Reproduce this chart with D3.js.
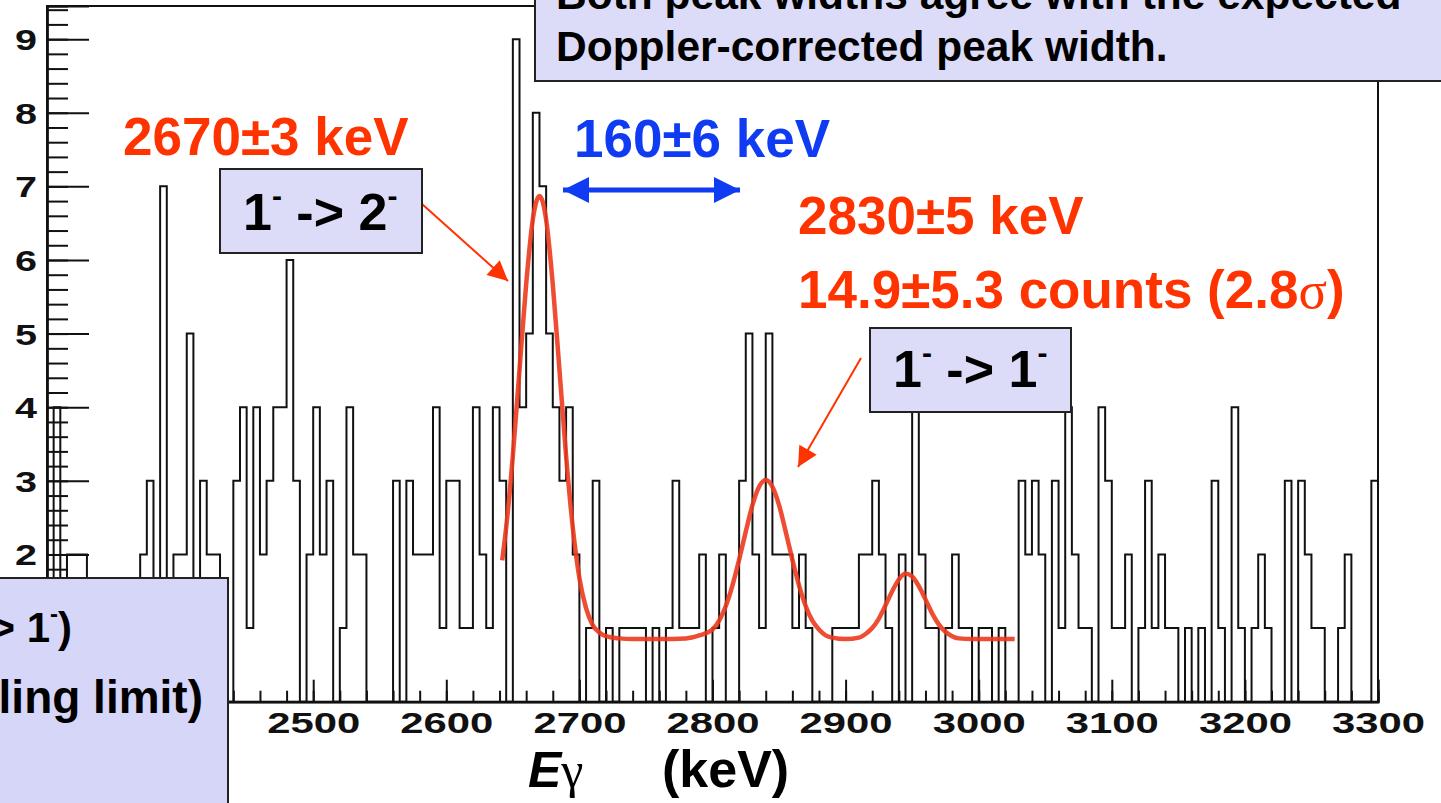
<!DOCTYPE html>
<html>
<head>
<meta charset="utf-8">
<script src="https://cdn.jsdelivr.net/npm/d3@7"></script>
<style>
body{margin:0;background:#fff;overflow:hidden}
svg text{font-family:"Liberation Sans",Arial,sans-serif;font-weight:bold}
</style>
</head>
<body>
<svg id="chart" width="1441" height="803"></svg>
<script>
// contenido de los bins, 5 keV cada uno, de 2300 a 3300 keV
var counts = [
 1,4,1,2,2,2,1,0,1,1, 0,1,0,1,2,3,1,7,1,2,
 2,5,1,3,2,2,1,0,3,4, 1,4,2,3,4,4,6,3,0,2,
 4,2,3,0,1,4,2,2,0,0, 0,0,3,0,3,2,2,2,4,1,
 3,3,1,1,4,2,1,4,3,0, 9,4,5,8,7,5,4,3,4,2,
 0,1,3,0,1,0,1,1,1,1, 0,1,0,1,3,1,1,1,2,0,
 1,2,0,0,3,5,2,1,5,2, 2,2,1,2,1,0,0,0,1,1,
 1,1,2,2,3,2,1,0,2,0, 4,2,1,1,0,1,2,1,1,0,
 1,1,0,1,0,0,3,2,3,2, 0,3,1,4,2,1,1,0,4,3,
 1,1,2,0,1,3,1,2,1,1, 0,1,0,1,0,3,1,0,4,1,
 0,1,2,1,0,0,3,0,3,2, 1,1,0,0,1,2,0,0,0,3
]
var binStart = 2300, binWidth = 5

// curva del ajuste
var fitEnergy = [2642,2645,2650,2655,2660,2665,2670,2675,2680,2685,2690,2695,2700,2705,2710,2715,2720,2730,2740,2760,
 2780,2790,2800,2805,2810,2815,2820,2825,2830,2835,2840,2845,2850,2855,2860,2865,2870,2875,2880,2885,2890,2900,
 2910,2915,2920,2925,2930,2935,2940,2945,2950,2955,2960,2965,2970,2975,2980,2985,2995,3027]
var fitCounts = [1.92,2.37,3.34,4.51,5.67,6.55,6.87,6.55,5.67,4.51,3.34,2.37,1.68,1.27,1.04,0.94,0.89,0.86,0.85,0.85,
 0.86,0.9,0.98,1.1,1.3,1.58,1.93,2.31,2.67,2.92,3.01,2.92,2.67,2.31,1.93,1.58,1.3,1.1,0.98,0.9,0.87,0.85,
 0.87,0.92,1.0,1.13,1.31,1.5,1.66,1.74,1.7,1.57,1.39,1.2,1.05,0.95,0.89,0.86,0.85,0.85]

// etiquetas visibles (las de 2300, 2400, 0 y 1 quedan bajo la caja)
var xTickLabels = [2500,2600,2700,2800,2900,3000,3100,3200,3300]
var yTickLabels = [2,3,4,5,6,7,8,9]

var red = "#ff3300", blue = "#0f3cf2", boxFill = "#dcdcf8"

var svg = d3.select("#chart")

var x = d3.scaleLinear().domain([2300,3300]).range([47,1378])
var y = d3.scaleLinear().domain([0,9.45]).range([701.7,6])

// marco
svg.append("rect")
    .attr("x",47).attr("y",6)
    .attr("width",1378-47).attr("height",701.7-6)
    .attr("fill","none").attr("stroke","#111").attr("stroke-width",2)

// ticks menores y mayores (hacia dentro)
var yAxisMinor = d3.axisLeft(y).tickValues(d3.range(0,9.41,0.2)).tickSize(-21).tickFormat("")
var yAxisMajor = d3.axisLeft(y).tickValues(d3.range(0,10,1)).tickSize(-42).tickFormat("")
var yAxis = d3.axisLeft(y).tickValues(yTickLabels).tickSize(0).tickPadding(10).tickFormat(d3.format("d"))
var xAxisMinor = d3.axisBottom(x).tickValues(d3.range(2300,3301,20)).tickSize(-11).tickFormat("")
var xAxisMajor = d3.axisBottom(x).tickValues(d3.range(2300,3301,100)).tickSize(-22).tickFormat("")
var xAxis = d3.axisBottom(x).tickValues(xTickLabels).tickSize(0).tickPadding(10).tickFormat(d3.format("d"))

function styleAxis(g){
    g.select(".domain").attr("stroke","#111").attr("stroke-width",2)
    g.selectAll(".tick line").attr("stroke","#111").attr("stroke-width",2)
}

svg.append("g").attr("transform","translate(47,0)").call(yAxisMinor).call(styleAxis)
svg.append("g").attr("transform","translate(47,0)").call(yAxisMajor).call(styleAxis)
var gy = svg.append("g").attr("transform","translate(47,0)").call(yAxis).call(styleAxis)
gy.selectAll("text")
    .attr("font-size",29).attr("fill","#111")
    .attr("textLength",22).attr("lengthAdjust","spacingAndGlyphs")
    .attr("dy","0.36em")

svg.append("g").attr("transform","translate(0,701.7)").call(xAxisMinor).call(styleAxis)
svg.append("g").attr("transform","translate(0,701.7)").call(xAxisMajor).call(styleAxis)
var gx = svg.append("g").attr("transform","translate(0,701.7)").call(xAxis).call(styleAxis)
gx.selectAll("text")
    .attr("font-size",29).attr("fill","#111")
    .attr("textLength",93).attr("lengthAdjust","spacingAndGlyphs")
    .attr("dy","0.72em")

// histograma en escalones
var steps = [[binStart,0]]
counts.forEach(function(c,i){
    var e0 = binStart + i*binWidth
    steps.push([e0,c])
    steps.push([e0+binWidth,c])
})
steps.push([binStart + counts.length*binWidth,0])

var line = d3.line()
    .x(function(d){ return x(d[0]) })
    .y(function(d){ return y(d[1]) })

svg.append("path")
    .datum(steps)
    .attr("d",line)
    .attr("fill","none")
    .attr("stroke","#111")
    .attr("stroke-width",2)

// ajuste
var fitLine = d3.line()
    .x(function(d){ return x(d[0]) })
    .y(function(d){ return y(d[1]) })
    .curve(d3.curveMonotoneX)

svg.append("path")
    .datum(fitEnergy.map(function(e,i){ return [e,fitCounts[i]] }))
    .attr("d",fitLine)
    .attr("fill","none")
    .attr("stroke","#ec3a1e")
    .attr("stroke-width",4.5)
    .attr("stroke-opacity",0.9)

// flechas
var defs = svg.append("defs")
function marker(id,color,w,h){
    defs.append("marker")
        .attr("id",id).attr("viewBox","0 0 10 10")
        .attr("refX",10).attr("refY",5)
        .attr("markerUnits","userSpaceOnUse")
        .attr("markerWidth",w).attr("markerHeight",h)
        .attr("orient","auto-start-reverse")
        .append("path").attr("d","M0,0 L10,5 L0,10 Z").attr("fill",color)
}
marker("redHead",red,26,20)
marker("blueHead",blue,30,26)

svg.append("line")
    .attr("x1",563).attr("y1",190).attr("x2",740).attr("y2",190)
    .attr("stroke",blue).attr("stroke-width",5)
    .attr("marker-start","url(#blueHead)").attr("marker-end","url(#blueHead)")

svg.append("line")
    .attr("x1",422).attr("y1",204).attr("x2",508).attr("y2",281)
    .attr("stroke",red).attr("stroke-width",2)
    .attr("marker-end","url(#redHead)")

svg.append("line")
    .attr("x1",861).attr("y1",358).attr("x2",798).attr("y2",467)
    .attr("stroke",red).attr("stroke-width",2)
    .attr("marker-end","url(#redHead)")

// textos de colores
function label(txt,xp,yp,color,size){
    return svg.append("text").attr("x",xp).attr("y",yp)
        .attr("fill",color).attr("font-size",size).text(txt)
}
label("2670±3 keV",123,155,red,53)
label("160±6 keV",574,157,blue,53)
label("2830±5 keV",798,234,red,53)
var t = label("14.9±5.3 counts (2.8",798,308,red,53)
t.append("tspan").attr("font-family","'Liberation Serif',serif").attr("font-weight","normal").text("σ")
t.append("tspan").text(")")

// cajas con transiciones
function transBox(bx,by,bw,bh,tx,ty,a,b){
    svg.append("rect").attr("x",bx).attr("y",by).attr("width",bw).attr("height",bh)
        .attr("fill",boxFill).attr("stroke","#222").attr("stroke-width",2)
    var tt = svg.append("text").attr("x",tx).attr("y",ty).attr("font-size",52).attr("fill","#000")
    tt.append("tspan").text(a)
    tt.append("tspan").attr("font-size",30).attr("dy",-24).text("-")
    tt.append("tspan").attr("dy",24).text(" -> " + b)
    tt.append("tspan").attr("font-size",30).attr("dy",-24).text("-")
}
transBox(220,169,202,84,243,230,"1","2")
transBox(870,328,201,84,893,387,"1","1")

// caja superior
svg.append("rect").attr("x",535).attr("y",-10).attr("width",960).attr("height",91)
    .attr("fill",boxFill).attr("stroke","#222").attr("stroke-width",2)
svg.append("text").attr("x",556).attr("y",9).attr("font-size",42.5).attr("fill","#000")
    .text("Both peak widths agree with the expected")
svg.append("text").attr("x",556).attr("y",61).attr("font-size",42.5).attr("fill","#000")
    .text("Doppler-corrected peak width.")

// caja inferior izquierda
svg.append("rect").attr("x",-10).attr("y",578).attr("width",238).attr("height",240)
    .attr("fill","#d6d6f8").attr("stroke","#222").attr("stroke-width",2)
var bl = svg.append("text").attr("x",72).attr("y",642).attr("font-size",42)
    .attr("text-anchor","end").attr("fill","#000")
bl.append("tspan").text("(2- -> 1")
bl.append("tspan").attr("font-size",24).attr("dy",-20).text("-")
bl.append("tspan").attr("dy",20).text(")")
svg.append("text").attr("x",203).attr("y",713).attr("font-size",46)
    .attr("text-anchor","end").attr("fill","#000").text("(sampling limit)")

// titulo eje x
var xt = svg.append("text").attr("x",528).attr("y",787).attr("font-size",50).attr("fill","#000")
xt.append("tspan").attr("font-style","italic").text("E")
xt.append("tspan").attr("font-family","'Liberation Serif',serif").attr("font-weight","normal").text("γ")
svg.append("text").attr("x",662).attr("y",787).attr("font-size",52).attr("fill","#000").text("(keV)")
</script>
</body>
</html>
